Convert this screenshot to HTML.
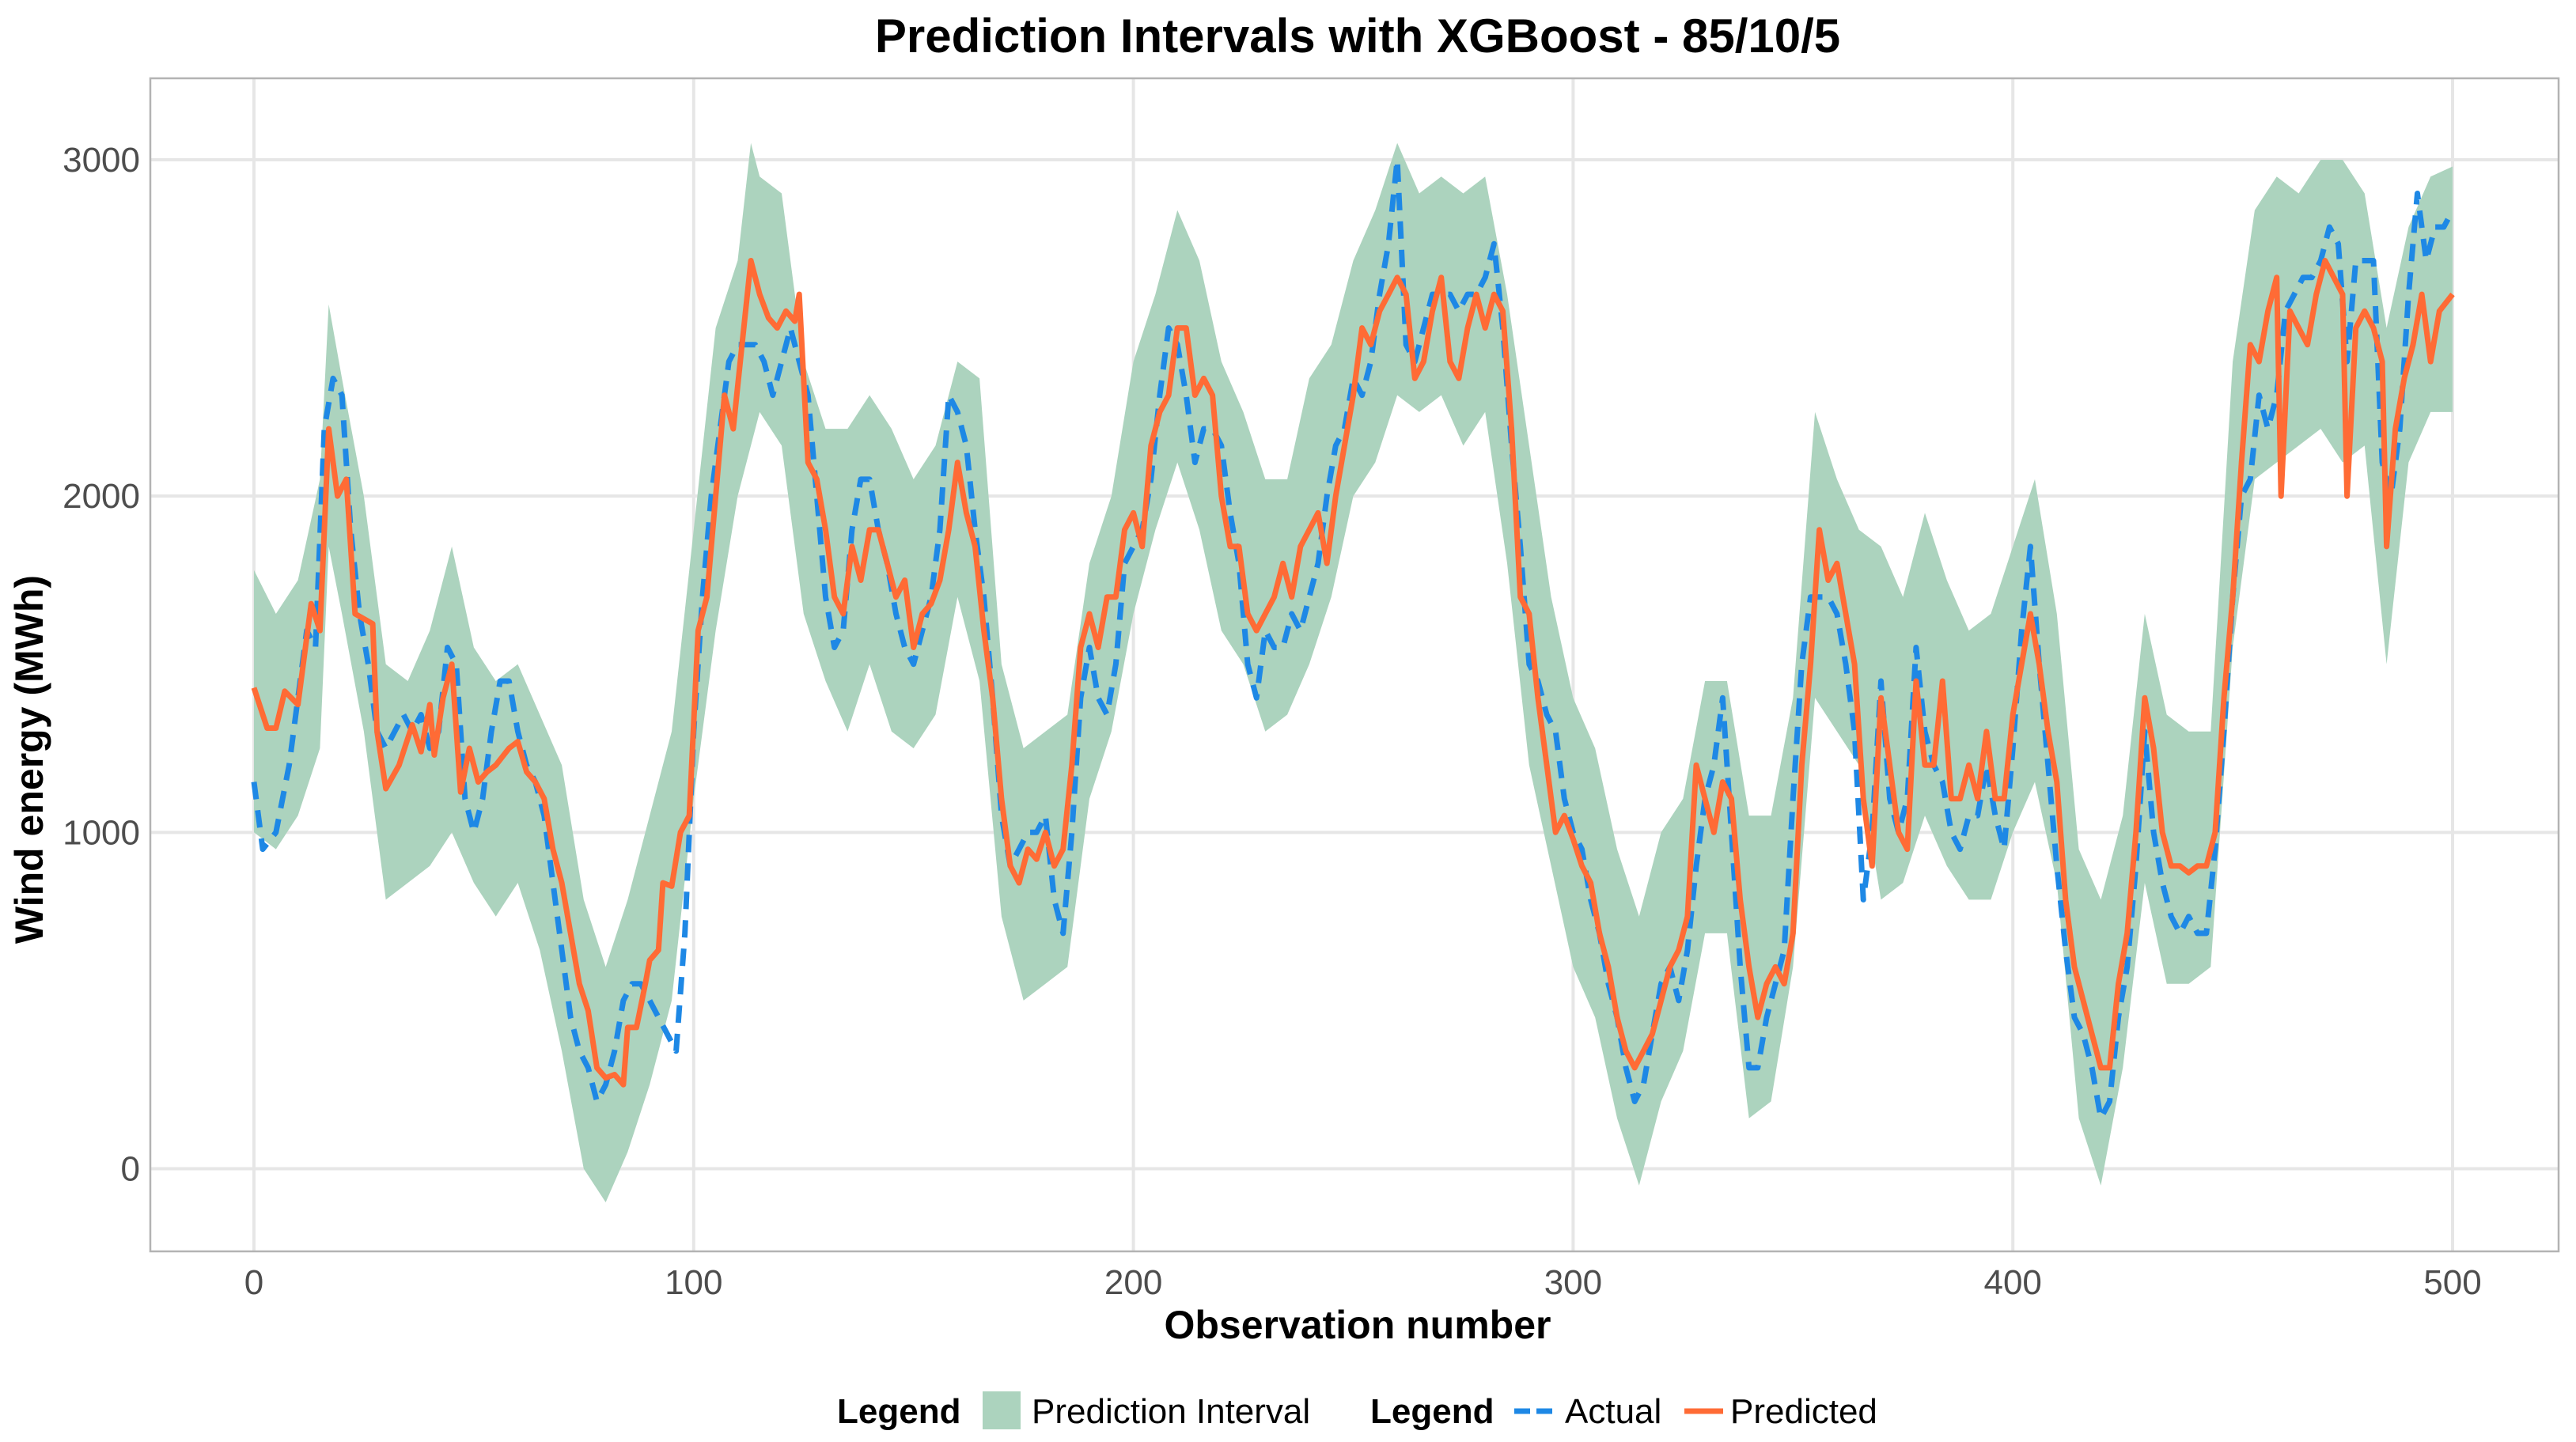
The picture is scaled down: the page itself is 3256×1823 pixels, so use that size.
<!DOCTYPE html>
<html><head><meta charset="utf-8"><style>
html,body{margin:0;padding:0;background:#fff;}
svg{display:block;font-family:"Liberation Sans",sans-serif;}
</style></head><body>
<svg id="chart" width="3256" height="1823" viewBox="0 0 3256 1823">
<text x="1716" y="66" text-anchor="middle" font-size="60" font-weight="bold" fill="#000">Prediction Intervals with XGBoost - 85/10/5</text>
<g id="grid"></g>
<g id="plot"></g>
<rect x="190" y="99" width="3044" height="1483" fill="none" stroke="#b3b3b3" stroke-width="2.5"/>
<g id="axes"></g>
<text x="1716" y="1692" text-anchor="middle" font-size="50" font-weight="bold">Observation number</text>
<text transform="translate(54,960) rotate(-90)" text-anchor="middle" font-size="50" font-weight="bold">Wind energy (MWh)</text>
<g font-size="44">
<text x="1058" y="1799" font-weight="bold">Legend</text>
<rect x="1242" y="1759" width="48" height="48" fill="#acd3be"/>
<text x="1304" y="1799">Prediction Interval</text>
<text x="1732" y="1799" font-weight="bold">Legend</text>
<line x1="1914" y1="1784" x2="1962" y2="1784" stroke="#1e88e5" stroke-width="7" stroke-dasharray="20 8"/>
<text x="1978" y="1799">Actual</text>
<line x1="2129" y1="1784" x2="2178" y2="1784" stroke="#ff6b35" stroke-width="7"/>
<text x="2187" y="1799">Predicted</text>
</g>
</svg>
<script>
const xTicks=[0,100,200,300,400,500];
const yTicks=[0,1000,2000,3000];
const bandX=[0,5,10,15,17,20,25,30,35,40,45,50,55,60,65,70,75,80,85,90,95,100,105,110,113,115,120,125,130,135,140,145,150,155,160,165,170,175,180,185,190,195,200,205,210,215,220,225,230,235,240,245,250,255,260,265,270,275,280,285,290,295,300,305,310,315,320,325,330,335,340,345,350,355,360,365,370,375,380,385,390,395,400,405,410,415,420,425,430,435,440,445,450,455,460,465,470,475,480,485,490,495,500];
const upper=[1780,1650,1750,2050,2570,2350,2000,1500,1450,1600,1850,1550,1450,1500,1350,1200,800,600,800,1050,1300,1900,2500,2700,3050,2950,2900,2400,2200,2200,2300,2200,2050,2150,2400,2350,1500,1250,1300,1350,1800,2000,2400,2600,2850,2700,2400,2250,2050,2050,2350,2450,2700,2850,3050,2900,2950,2900,2950,2600,2150,1700,1400,1250,950,750,1000,1100,1450,1450,1050,1050,1400,2250,2050,1900,1850,1700,1950,1750,1600,1650,1850,2050,1650,950,800,1050,1650,1350,1300,1300,2400,2850,2950,2900,3000,3000,2900,2500,2800,2950,2980];
const lower=[1000,950,1050,1250,1850,1650,1300,800,850,900,1000,850,750,850,650,350,0,-100,50,250,500,1100,1600,2000,2150,2250,2150,1650,1450,1300,1500,1300,1250,1350,1700,1450,750,500,550,600,1100,1300,1650,1900,2100,1900,1600,1500,1300,1350,1500,1700,2000,2100,2300,2250,2300,2150,2250,1800,1200,900,600,450,150,-50,200,350,700,700,150,200,600,1400,1300,1200,800,850,1050,900,800,800,1000,1150,850,150,-50,300,850,550,550,600,1550,2050,2100,2150,2200,2100,2150,1500,2100,2250,2250];
const predX=[0,3,5,7,10,13,15,17,19,21,23,27,28,30,33,36,38,40,41,43,45,47,49,51,53,55,58,60,62,64,66,68,70,72,74,76,78,80,82,84,85,87,89,90,92,93,95,97,99,101,103,105,107,109,111,113,115,117,119,121,123,124,126,128,130,132,134,136,138,140,142,144,146,148,150,152,154,156,158,160,162,164,166,168,170,172,174,176,178,180,182,184,186,188,190,192,194,196,198,200,202,204,206,208,210,212,214,216,218,220,222,224,226,228,230,232,234,236,238,240,242,244,246,248,250,252,254,256,258,260,262,264,266,268,270,272,274,276,278,280,282,284,286,288,290,292,294,296,298,300,302,304,306,308,310,312,314,316,318,320,322,324,326,328,330,332,334,336,338,340,342,344,346,348,350,352,354,356,358,360,362,364,366,368,370,372,374,376,378,380,382,384,386,388,390,392,394,396,398,400,402,404,406,408,410,412,414,416,418,420,422,424,426,428,430,432,434,436,438,440,442,444,446,448,450,452,454,456,458,460,461,463,465,467,469,471,473,475,476,478,480,482,484,485,487,489,491,493,495,497,500];
const predicted=[1430,1310,1310,1420,1380,1680,1600,2200,2000,2050,1650,1620,1300,1130,1200,1320,1240,1380,1230,1400,1500,1120,1250,1150,1180,1200,1250,1270,1180,1150,1100,950,850,700,550,470,300,270,280,250,420,420,550,620,650,850,840,1000,1050,1600,1700,2000,2300,2200,2450,2700,2600,2530,2500,2550,2520,2600,2100,2050,1900,1700,1650,1850,1750,1900,1900,1800,1700,1750,1550,1650,1680,1750,1900,2100,1950,1850,1600,1400,1100,900,850,950,920,1000,900,950,1200,1550,1650,1550,1700,1700,1900,1950,1850,2150,2250,2300,2500,2500,2300,2350,2300,2000,1850,1850,1650,1600,1650,1700,1800,1700,1850,1900,1950,1800,2000,2150,2300,2500,2450,2550,2600,2650,2600,2350,2400,2550,2650,2400,2350,2500,2600,2500,2600,2550,2200,1700,1650,1400,1200,1000,1050,980,900,850,700,600,450,350,300,350,400,500,600,650,750,1200,1100,1000,1150,1100,800,600,450,550,600,550,700,1200,1500,1900,1750,1800,1650,1500,1100,900,1400,1200,1000,950,1450,1200,1200,1450,1100,1100,1200,1100,1300,1100,1100,1350,1500,1650,1500,1300,1150,800,600,500,400,300,300,550,700,1000,1400,1250,1000,900,900,880,900,900,1000,1400,1700,2100,2450,2400,2550,2650,2000,2550,2500,2450,2600,2700,2650,2600,2000,2500,2550,2500,2400,1850,2200,2350,2450,2600,2400,2550,2600];
const actX=[0,2,5,8,10,12,14,16,18,20,22,24,26,28,30,32,34,36,38,40,42,44,46,48,50,52,54,56,58,60,62,64,66,68,70,72,74,76,78,80,82,84,86,88,90,92,94,96,98,100,102,104,106,108,110,112,114,116,118,120,122,124,126,128,130,132,134,136,138,140,142,144,146,148,150,152,154,156,158,160,162,164,166,168,170,172,174,176,178,180,182,184,186,188,190,192,194,196,198,200,202,204,206,208,210,212,214,216,218,220,222,224,226,228,230,232,234,236,238,240,242,244,246,248,250,252,254,256,258,260,262,264,266,268,270,272,274,276,278,280,282,284,286,288,290,292,294,296,298,300,302,304,306,308,310,312,314,316,318,320,322,324,326,328,330,332,334,336,338,340,342,344,346,348,350,352,354,356,358,360,362,364,366,368,370,372,374,376,378,380,382,384,386,388,390,392,394,396,398,400,402,404,406,408,410,412,414,416,418,420,422,424,426,428,430,432,434,436,438,440,442,444,446,448,450,452,454,456,458,460,462,464,466,468,470,472,474,476,478,480,482,484,486,488,490,492,494,496,498,500];
const actual=[1150,950,1000,1200,1400,1600,1550,2200,2350,2300,1900,1650,1500,1300,1250,1300,1350,1300,1350,1250,1300,1550,1500,1100,1000,1100,1300,1450,1450,1300,1200,1150,1050,850,650,450,350,300,200,250,350,500,550,550,500,450,400,350,700,1300,1700,2000,2200,2400,2450,2450,2450,2400,2300,2400,2500,2400,2300,2000,1700,1550,1600,1900,2050,2050,1900,1800,1650,1550,1500,1600,1700,1900,2300,2250,2150,1900,1700,1400,1050,900,950,1000,1000,1050,800,700,1000,1400,1550,1400,1350,1500,1800,1850,1900,2050,2300,2500,2450,2300,2100,2200,2200,2150,1950,1800,1500,1400,1600,1550,1550,1650,1600,1700,1800,2000,2150,2200,2350,2300,2400,2600,2750,3000,2450,2400,2500,2600,2600,2600,2550,2600,2600,2650,2750,2500,2150,1850,1500,1450,1350,1300,1100,1000,950,800,700,550,450,300,200,250,400,550,600,500,650,900,1100,1200,1400,1000,600,300,300,450,550,650,1100,1500,1700,1700,1700,1650,1500,1300,800,1000,1450,1100,1000,1100,1550,1300,1200,1150,1000,950,1050,1050,1200,1050,950,1250,1600,1850,1500,1200,900,650,450,400,300,150,200,450,600,900,1300,1000,850,750,700,750,700,700,950,1300,1700,2000,2050,2300,2200,2300,2550,2600,2650,2650,2700,2800,2750,2400,2700,2700,2700,2100,2000,2200,2600,2900,2700,2800,2800,2850];

const NS='http://www.w3.org/2000/svg';
const L=190,R=3234,T=99,B=1582;
function xs(v){return 321+v*5.558;}
function ys(v){return 1477.5-v*0.42517;}
const grid=document.getElementById('grid'),plot=document.getElementById('plot'),axes=document.getElementById('axes');
function mk(tag,attrs,parent){const e=document.createElementNS(NS,tag);for(const k in attrs)e.setAttribute(k,attrs[k]);parent.appendChild(e);return e;}
xTicks.forEach(v=>{const g=mk('line',{x1:xs(v),x2:xs(v),y1:T,y2:B,stroke:'#e6e6e6','stroke-width':4},grid);


const t=mk('text',{x:xs(v),y:1636,'text-anchor':'middle','font-size':44,fill:'#4d4d4d'},axes);t.textContent=v;

});
yTicks.forEach(v=>{const g=mk('line',{x1:L,x2:R,y1:ys(v),y2:ys(v),stroke:'#e6e6e6','stroke-width':4},grid);


const t=mk('text',{x:177,y:ys(v)+15,'text-anchor':'end','font-size':44,fill:'#4d4d4d'},axes);t.textContent=v;

});
let d='';bandX.forEach((x,i)=>{d+=(i?'L':'M')+xs(x).toFixed(1)+','+ys(upper[i]).toFixed(1);});
for(let i=bandX.length-1;i>=0;i--)d+='L'+xs(bandX[i]).toFixed(1)+','+ys(lower[i]).toFixed(1);
const band=mk('path',{d:d+'Z',fill:'#acd3be'},plot);


function line(X,Y){return X.map((x,i)=>(i?'L':'M')+xs(x).toFixed(1)+','+ys(Y[i]).toFixed(1)).join('');}
const a=mk('path',{d:line(actX,actual),fill:'none',stroke:'#1e88e5','stroke-width':7,'stroke-dasharray':'22 14','stroke-linejoin':'round'},plot);


const p=mk('path',{d:line(predX,predicted),fill:'none',stroke:'#ff6b35','stroke-width':7,'stroke-linejoin':'round'},plot);


</script>
</body></html>
